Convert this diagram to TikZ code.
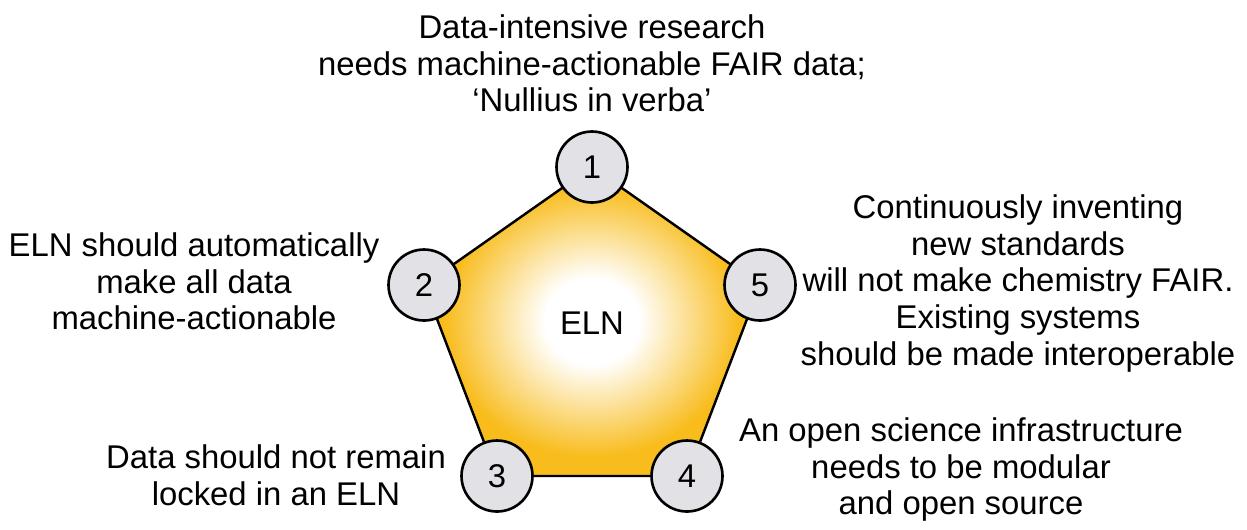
\documentclass[tikz,border=0pt]{standalone}
\usepackage{fontspec}
\setmainfont{Liberation Sans}
\usepackage{xcolor}
\definecolor{gold}{RGB}{248,188,28}
\definecolor{disc}{RGB}{226,226,230}
\pgfdeclareradialshading{elnglow}{\pgfpoint{0bp}{0bp}}{color(0bp)=(white); color(7bp)=(white); color(22bp)=(gold); color(50bp)=(gold)}
\tikzset{
    num/.style = {circle, draw, line width=1.5pt, fill=disc, minimum size=1.42cm, inner sep=0pt},
    claim/.style = {align=center, inner sep=0pt, anchor=north}
}

\begin{document}
\begin{tikzpicture}[x=0.02cm, y=-0.02cm, line cap=round, line join=round, font=\fontsize{18.7}{21}\selectfont]
	\useasboundingbox (0,0) rectangle (1247,529);
	\coordinate (p1) at (592,167);
	\coordinate (p2) at (424,285);
	\coordinate (p3) at (497,476);
	\coordinate (p4) at (687,476);
	\coordinate (p5) at (760,285);
	\shade[shading=elnglow] (p1) -- (p2) -- (p3) -- (p4) -- (p5) -- cycle;
	\draw[line width=1.4pt] (p1) -- (p2) -- (p3) -- (p4) -- (p5) -- cycle;
	\node[num] (n1) at (p1) {1};
	\node[num] (n2) at (p2) {2};
	\node[num] (n3) at (p3) {3};
	\node[num] (n4) at (p4) {4};
	\node[num] (n5) at (p5) {5};
	\node (eln) at (592,323) {ELN};
	\node[claim] (t1) at (592,14) {Data-intensive research\\needs machine-actionable FAIR data;\\`Nullius in verba'};
	\node[claim] (t2) at (194,232) {ELN should automatically\\make all data\\machine-actionable};
	\node[claim] (t3) at (276,444) {Data should not remain\\locked in an ELN};
	\node[claim] (t4) at (961,417) {An open science infrastructure\\needs to be modular\\and open source};
	\node[claim] (t5) at (1018,194) {Continuously inventing\\new standards\\will not make chemistry FAIR.\\Existing systems\\should be made interoperable};
\end{tikzpicture}
\end{document}
